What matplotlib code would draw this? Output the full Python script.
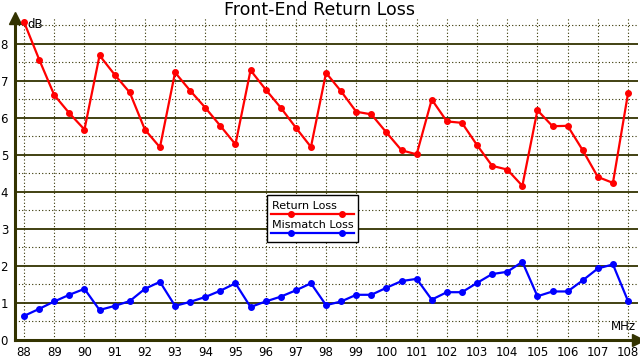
import matplotlib
matplotlib.use('Agg')
import matplotlib.pyplot as plt
import numpy as np

# frequency points, MHz
freq = [88 + 0.5 * i for i in range(41)]

return_loss = [8.58, 7.57, 6.61, 6.12, 5.68, 7.68, 7.16, 6.68, 5.68, 5.20,
               7.22, 6.73, 6.27, 5.78, 5.28, 7.28, 6.76, 6.27, 5.73, 5.21,
               7.21, 6.71, 6.16, 6.09, 5.60, 5.12, 5.01, 6.49, 5.90, 5.86,
               5.26, 4.70, 4.60, 4.16, 6.20, 5.77, 5.78, 5.12, 4.40, 4.24,
               6.66]

mismatch_loss = [0.65, 0.84, 1.04, 1.22, 1.38, 0.81, 0.92, 1.05, 1.38, 1.57,
                 0.92, 1.03, 1.16, 1.33, 1.53, 0.89, 1.04, 1.17, 1.34, 1.53,
                 0.94, 1.04, 1.22, 1.22, 1.41, 1.59, 1.65, 1.09, 1.29, 1.29,
                 1.54, 1.78, 1.84, 2.11, 1.18, 1.31, 1.31, 1.61, 1.93, 2.04,
                 1.05]

x_ticks = list(range(88, 109))
y_ticks = list(range(0, 9))

grid_col = '#333300'

fig = plt.figure(figsize=(6.4, 3.6), dpi=100)
fig.patch.set_facecolor('white')
ax = fig.add_axes([15 / 640, 1 - 340 / 360, (638 - 15) / 640, (340 - 18) / 360])

ax.set_xlim(87.70, 108.33)
ax.set_ylim(0, 8.69)

# grid
for xv in x_ticks:
    ax.axvline(xv, color=grid_col, lw=0.8, ls=(0, (1, 2)), zorder=1)
for yv in np.arange(0.5, 8.6, 1.0):
    ax.axhline(yv, color=grid_col, lw=0.8, ls=(0, (1, 2)), zorder=1)
for yv in y_ticks[1:]:
    ax.axhline(yv, color=grid_col, lw=1.3, zorder=1)

ax.plot(freq, return_loss, color='#ff0000', lw=1.6, marker='o', ms=4, zorder=3)
ax.plot(freq, mismatch_loss, color='#0000ff', lw=1.6, marker='o', ms=4, zorder=3)

for s in ['top', 'right']:
    ax.spines[s].set_visible(False)
for s in ['left', 'bottom']:
    ax.spines[s].set_color(grid_col)
    ax.spines[s].set_linewidth(2.2)

# axis arrows
ax.plot([0], [1.0], marker='^', color=grid_col, ms=8, transform=ax.transAxes, clip_on=False)
ax.plot([1.0], [0], marker='>', color=grid_col, ms=8, transform=ax.transAxes, clip_on=False)

ax.set_xticks(x_ticks)
ax.set_xticklabels([str(v) for v in x_ticks])
ax.set_yticks(y_ticks)
ax.set_yticklabels([str(v) for v in y_ticks])
ax.tick_params(length=0, labelsize=8.5, colors='black')
ax.tick_params(axis='y', pad=5)
ax.tick_params(axis='x', pad=4)

fig.text(320 / 640, 1 - 10 / 360, 'Front-End Return Loss', ha='center', va='center', fontsize=12.5)
fig.text(27 / 640, 1 - 25 / 360, 'dB', ha='left', va='center', fontsize=8.5)
fig.text(636 / 640, 1 - 327 / 360, 'MHz', ha='right', va='center', fontsize=8.5)

# legend drawn like the original: line and markers under each label
bx0, bx1, by0, by1 = 266.5, 357.5, 194.5, 241.5
fig.patches.append(plt.Rectangle((bx0 / 640, 1 - by1 / 360), (bx1 - bx0) / 640, (by1 - by0) / 360,
                                 transform=fig.transFigure, facecolor='white', edgecolor='black',
                                 lw=1.0, zorder=5))
entries = [('Return Loss', '#ff0000', 206, 213.5), ('Mismatch Loss', '#0000ff', 225, 232.5)]
for label, col, ty, ly in entries:
    fig.text(271.5 / 640, 1 - ty / 360, label, ha='left', va='center', fontsize=8, zorder=6)
    fig.add_artist(plt.Line2D([271 / 640, 354 / 640], [1 - ly / 360] * 2, color=col, lw=1.6,
                              transform=fig.transFigure, zorder=6))
    fig.add_artist(plt.Line2D([291 / 640, 341.5 / 640], [1 - ly / 360] * 2, color=col, lw=0,
                              marker='o', ms=4, transform=fig.transFigure, zorder=6))

fig.savefig('out.png', dpi=100)
